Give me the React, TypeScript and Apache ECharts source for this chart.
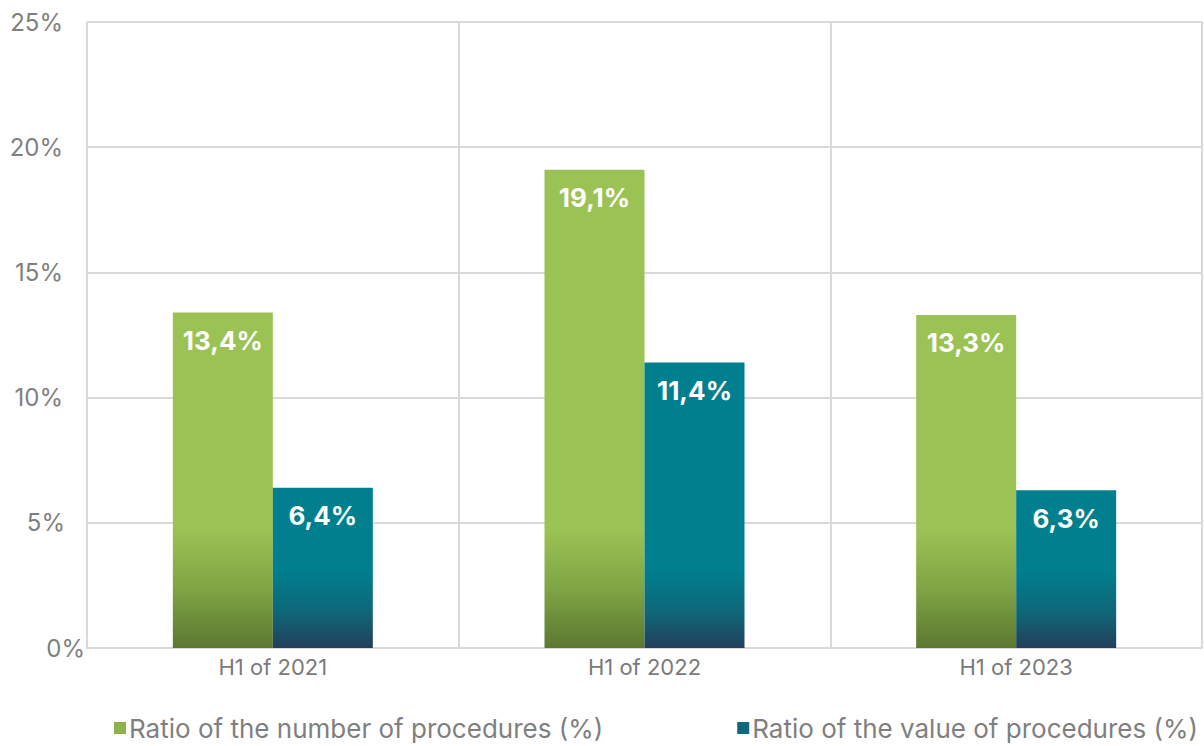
import React, { useEffect, useRef } from "react";
import * as echarts from "echarts";

const categories = ["H1 of 2021", "H1 of 2022", "H1 of 2023"];
const numberRatio = [13.4, 19.1, 13.3];
const valueRatio = [6.4, 11.4, 6.3];
const seriesNames = ["Ratio of the number of procedures (%)", "Ratio of the value of procedures (%)"];
const yTicks = [0, 5, 10, 15, 20, 25];

const FONT = "Inter, 'Liberation Sans', Arial, sans-serif";

export default function App() {
  const ref = useRef<HTMLDivElement>(null);
  useEffect(() => {
    if (!ref.current) return;
    const chart = echarts.init(ref.current, null, { renderer: "svg" });
    const greenGrad = new echarts.graphic.LinearGradient(0, 530, 0, 648, [
      { offset: 0, color: "#9bc254" },
      { offset: 0.5, color: "#7fa444" },
      { offset: 1, color: "#5c7830" },
    ], true);
    const tealGrad = new echarts.graphic.LinearGradient(0, 570, 0, 648, [
      { offset: 0, color: "#007f8f" },
      { offset: 0.55, color: "#0f6678" },
      { offset: 1, color: "#233f5b" },
    ], true);
    const label = {
      show: true,
      position: "insideTop",
      distance: 15,
      color: "#ffffff",
      fontWeight: "bold",
      fontSize: 26,
      fontFamily: FONT,
      formatter: (p: any) => String(p.value.toFixed(1)).replace(".", ",") + "%",
    };
    chart.setOption({
      animation: false,
      textStyle: { fontFamily: FONT },
      grid: { left: 87, right: 2, top: 22, bottom: 98, containLabel: false },
      legend: {
        bottom: 0,
        left: 109,
        itemWidth: 12,
        itemHeight: 12,
        itemGap: 134,
        icon: "rect",
        textStyle: { fontSize: 26, color: "#7f7f7f", fontFamily: FONT, padding: [0, 0, 0, -2] },
        data: [
          { name: seriesNames[0], itemStyle: { color: "#8cb44a" } },
          { name: seriesNames[1], itemStyle: { color: "#116878" } },
        ],
      },
      xAxis: {
        type: "category",
        data: categories,
        axisLine: { show: true, lineStyle: { color: "#d9d9d9", width: 2 } },
        axisTick: { show: false },
        splitLine: { show: true, lineStyle: { color: "#d9d9d9", width: 2 } },
        axisLabel: { color: "#7a7a7a", fontSize: 22, margin: 8, fontFamily: FONT },
      },
      yAxis: {
        type: "value",
        min: 0,
        max: 25,
        interval: 5,
        axisLine: { show: false },
        axisTick: { show: false },
        splitLine: { show: true, lineStyle: { color: "#d9d9d9", width: 2 } },
        axisLabel: {
          color: "#7f7f7f",
          fontSize: 24,
          margin: 2,
          fontFamily: FONT,
          formatter: (v: number) => {
            const t = yTicks.includes(v) ? v + "%" : "";
            if (v === 0) return "{z|" + t + "}";
            if (v === 5) return "{f|" + t + "}";
            return "{o|" + t + "}";
          },
          rich: {
            z: { fontSize: 24, color: "#7f7f7f", fontFamily: FONT, padding: [0, 0, 0, 0] },
            f: { fontSize: 24, color: "#7f7f7f", fontFamily: FONT, padding: [0, 20, 0, 0] },
            o: { fontSize: 24, color: "#7f7f7f", fontFamily: FONT, padding: [0, 22, 0, 0] },
          },
        },
      },
      series: [
        {
          name: seriesNames[0],
          type: "bar",
          data: numberRatio,
          barWidth: 100,
          barGap: "0%",
          itemStyle: { color: greenGrad },
          label,
        },
        {
          name: seriesNames[1],
          type: "bar",
          data: valueRatio,
          barWidth: 100,
          barGap: "0%",
          itemStyle: { color: tealGrad },
          label,
        },
      ],
    });
    return () => chart.dispose();
  }, []);
  return (
    <div
      ref={ref}
      style={{ position: "fixed", left: 0, top: 0, width: 1204, height: 746, background: "#ffffff" }}
    />
  );
}
